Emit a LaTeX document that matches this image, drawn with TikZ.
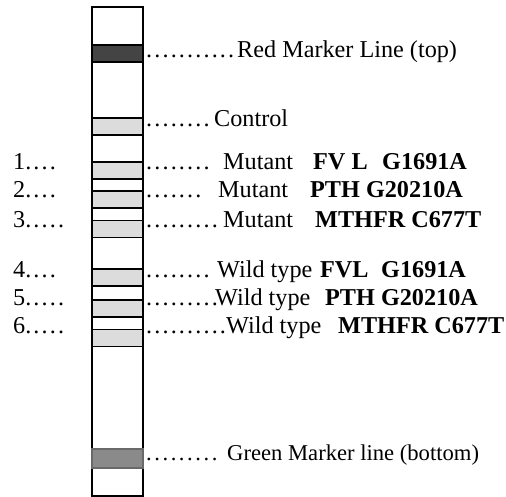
\documentclass[tikz,border=0pt]{standalone}
\usepackage{fontspec}
\setmainfont{Liberation Serif}
\definecolor{bandgray}{RGB}{220,220,220}
\definecolor{topband}{RGB}{68,68,68}
\definecolor{bottomband}{RGB}{138,138,138}
\definecolor{bottomedge}{RGB}{105,105,105}
% a run of evenly spaced leader dots
\newcommand\leaderdots[1]{\foreach\k in {1,...,#1}{\makebox[8.2bp][l]{.}}}
\begin{document}
\begin{tikzpicture}[x=1bp,y=-1bp,
  strip/.style={draw=black, line width=1.4bp, minimum width=51bp, minimum height=489bp, inner sep=0},
  band/.style={draw=black, line width=1.3bp, fill=bandgray, minimum width=51bp, minimum height=17bp, inner sep=0},
  lab/.style={anchor=base west, inner sep=0, font=\fontsize{24.3}{28}\selectfont},
  smalllab/.style={lab, font=\fontsize{22.7}{27}\selectfont},
]
\useasboundingbox (0,0) rectangle (506,497);

% test strip
\node[strip] (strip) at (117.5,251.5) {};

% bands
\node[band, fill=topband] (red) at (117.5,53.5) {};
\node[band] (ctrl) at (117.5,126.5) {};
\node[band] (b1) at (117.5,170.5) {};
\node[band] (b2) at (117.5,199.5) {};
\node[band] (b3) at (117.5,229) {};
\node[band] (b4) at (117.5,277.5) {};
\node[band] (b5) at (117.5,308.5) {};
\node[band] (b6) at (117.5,338) {};
\node[band, fill=bottomband, draw=bottomedge, minimum height=19bp] (green) at (117.5,458.5) {};

% left-hand numbers
\node[lab] (n1) at (13,170) {1\leaderdots{4}};
\node[lab] (n2) at (13,198) {2\leaderdots{4}};
\node[lab] (n3) at (13,227) {3\leaderdots{5}};
\node[lab] (n4) at (13,277) {4\leaderdots{4}};
\node[lab] (n5) at (13,305) {5\leaderdots{5}};
\node[lab] (n6) at (13,333) {6\leaderdots{5}};

% right-hand labels: leader dots, then the text
\node[lab] (dr) at (146,58) {\leaderdots{11}};
\node[lab] (tr) at (237,58) {Red Marker Line (top)};

\node[lab] (dc) at (146,127) {\leaderdots{8}};
\node[lab] (tc) at (214,127) {Control};

\node[lab] (d1) at (146,170) {\leaderdots{8}};
\node[lab] (m1) at (223,170) {Mutant};
\node[lab] (g1a) at (313,170) {\textbf{FV L}};
\node[lab] (g1b) at (382,170) {\textbf{G1691A}};

\node[lab] (d2) at (146,198) {\leaderdots{7}};
\node[lab] (m2) at (218,198) {Mutant};
\node[lab] (g2) at (310,198) {\textbf{PTH G20210A}};

\node[lab] (d3) at (146,227) {\leaderdots{9}};
\node[lab] (m3) at (223,227) {Mutant};
\node[lab] (g3) at (315,227) {\textbf{MTHFR C677T}};

\node[lab] (d4) at (146,277) {\leaderdots{8}};
\node[lab] (w4) at (217,277) {Wild type};
\node[lab] (g4a) at (320,277) {\textbf{FVL}};
\node[lab] (g4b) at (381,277) {\textbf{G1691A}};

\node[lab] (d5) at (146,305) {\leaderdots{9}};
\node[lab] (w5) at (215,305) {Wild type};
\node[lab] (g5) at (325,305) {\textbf{PTH G20210A}};

\node[lab] (d6) at (146,333) {\leaderdots{10}};
\node[lab] (w6) at (226,333) {Wild type};
\node[lab] (g6) at (338,333) {\textbf{MTHFR C677T}};

\node[smalllab] (dg) at (146,460) {\leaderdots{9}};
\node[smalllab] (tg) at (227,460) {Green Marker line (bottom)};
\end{tikzpicture}
\end{document}
